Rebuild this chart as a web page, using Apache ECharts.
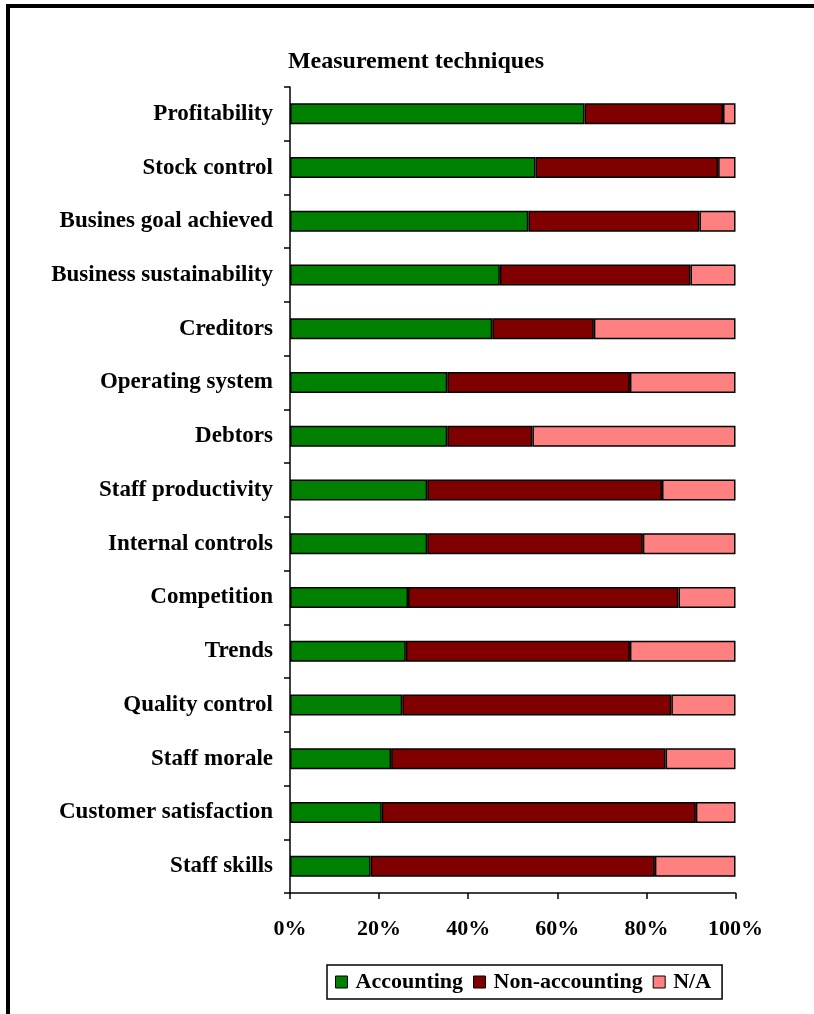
<!DOCTYPE html>
<html>
<head>
<meta charset="utf-8">
<title>Measurement techniques</title>
<script src="https://cdn.jsdelivr.net/npm/echarts@6/dist/echarts.min.js"></script>
<style>
  html, body { margin: 0; padding: 0; background: #ffffff; }
  #chart { width: 814px; height: 1014px; }
</style>
</head>
<body>
<div id="chart"></div>
<script>
// Measurement techniques: share of respondents (%) by approach
const categories = [
  'Profitability', 'Stock control', 'Busines goal achieved', 'Business sustainability',
  'Creditors', 'Operating system', 'Debtors', 'Staff productivity', 'Internal controls',
  'Competition', 'Trends', 'Quality control', 'Staff morale', 'Customer satisfaction', 'Staff skills'
];
const accounting    = [66.1, 55.1, 53.5, 47.1, 45.4, 35.3, 35.3, 30.8, 30.8, 26.5, 26.0, 25.2, 22.7, 20.6, 18.1];
const nonAccounting = [31.1, 41.0, 38.4, 42.8, 22.8, 41.0, 19.1, 52.7, 48.4, 60.7, 50.3, 60.4, 61.6, 70.5, 63.8];
const notApplicable = [2.8, 3.9, 8.1, 10.1, 31.8, 23.7, 45.6, 16.5, 20.8, 12.8, 23.7, 14.4, 15.7, 8.9, 18.1];
const seriesNames = ['Accounting', 'Non-accounting', 'N/A'];
const xTicks = [0, 20, 40, 60, 80, 100];

const serif = '"Liberation Serif", "Times New Roman", Times, serif';
const colors = ['#008000', '#800000', '#ff8080'];

const chart = echarts.init(document.getElementById('chart'));

function barSeries(name, data, color) {
  return {
    name: name,
    type: 'bar',
    stack: 'total',
    barWidth: 21,
    data: data,
    itemStyle: { color: color, borderColor: '#000000', borderWidth: 1.5 },
    emphasis: { disabled: true }
  };
}

chart.setOption({
  animation: false,
  backgroundColor: '#ffffff',
  title: {
    text: 'Measurement techniques',
    left: 411,
    top: 45,
    textAlign: 'center',
    textStyle: { fontFamily: serif, fontWeight: 'bold', fontSize: 24, color: '#000000' }
  },
  legend: {
    left: 327,
    top: 965,
    orient: 'horizontal',
    itemWidth: 12,
    itemHeight: 12,
    itemGap: 10,
    padding: [6, 11, 6, 8],
    borderColor: '#000000',
    borderWidth: 1.5,
    icon: 'rect',
    data: seriesNames,
    textStyle: { fontFamily: serif, fontWeight: 'bold', fontSize: 22, color: '#000000', padding: [0, 0, 0, 3] },
    itemStyle: { borderColor: '#000000', borderWidth: 1 }
  },
  grid: { left: 290, right: 78.5, top: 87, bottom: 121, containLabel: false },
  xAxis: {
    type: 'value',
    min: xTicks[0],
    max: xTicks[xTicks.length - 1],
    interval: xTicks[1] - xTicks[0],
    axisLine: { show: true, lineStyle: { color: '#000000', width: 1.5 } },
    axisTick: { show: true, length: 6, lineStyle: { color: '#000000', width: 1.5 } },
    splitLine: { show: false },
    axisLabel: {
      margin: 25,
      fontFamily: serif, fontWeight: 'bold', fontSize: 22, color: '#000000',
      formatter: '{value}%'
    }
  },
  yAxis: {
    type: 'category',
    inverse: true,
    data: categories,
    axisLine: { show: true, lineStyle: { color: '#000000', width: 1.5 } },
    axisTick: { show: true, length: 6, lineStyle: { color: '#000000', width: 1.5 } },
    axisLabel: {
      margin: 17,
      fontFamily: serif, fontWeight: 'bold', fontSize: 23, color: '#000000'
    }
  },
  series: [
    barSeries(seriesNames[0], accounting, colors[0]),
    barSeries(seriesNames[1], nonAccounting, colors[1]),
    barSeries(seriesNames[2], notApplicable, colors[2])
  ],
  graphic: [{
    type: 'rect',
    shape: { x: 8, y: 6, width: 1000, height: 1200 },
    style: { fill: null, stroke: '#000000', lineWidth: 4 },
    silent: true
  }]
});
</script>
</body>
</html>
